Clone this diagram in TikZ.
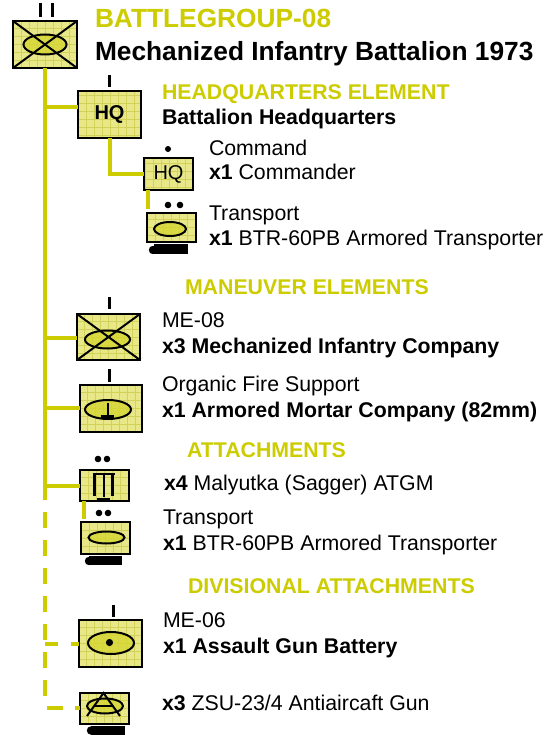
\documentclass[tikz,border=0pt]{standalone}
\usepackage{fontspec}
\setmainfont{Liberation Sans}
\usetikzlibrary{calc}
\definecolor{ylw}{RGB}{204,204,0}
\definecolor{boxfill}{RGB}{232,232,136}
\definecolor{gridc}{RGB}{210,210,90}
\definecolor{ellfill}{RGB}{214,214,50}
\begin{document}
\begin{tikzpicture}[x=1pt,y=-1pt,
 unitbox/.style={draw=black,line width=2pt,fill=boxfill,inner sep=0pt,outer sep=0pt,
   path picture={\draw[gridc,line width=0.7pt,step=8pt] (path picture bounding box.south west) grid (path picture bounding box.north east);}},
 link/.style={draw=ylw,line width=4pt},
 dlink/.style={link,dash pattern=on 16pt off 12pt},
 sym/.style={draw=black,line width=2pt},
 ell/.style={sym,fill=ellfill,fill opacity=0.8},
 bar/.style={draw=black,line width=3pt},
 lbl/.style={anchor=base west,inner sep=0pt,outer sep=0pt,font=\fontsize{21.3}{25}\selectfont},
 head/.style={lbl,font=\fontsize{21.3}{25}\selectfont\bfseries,text=ylw},
 ttl/.style={anchor=base west,inner sep=0pt,outer sep=0pt,font=\fontsize{26.3}{30}\selectfont\bfseries}
]
\fill[white] (0,0) rectangle (557,735);
\useasboundingbox (0,0) rectangle (557,735);

% ---- unit boxes
\node[unitbox,minimum width=64pt,minimum height=47pt] (bg) at (45,44.5) {};
\node[unitbox,minimum width=63pt,minimum height=47pt,font=\fontsize{20}{24}\selectfont\bfseries] (hq) at (109.5,114.5) {HQ};
\node[unitbox,minimum width=49pt,minimum height=32pt,font=\fontsize{20}{24}\selectfont] (cmd) at (168.5,174) {HQ};
\node[unitbox,minimum width=49pt,minimum height=29pt] (tr1) at (171.5,227.5) {};
\node[unitbox,minimum width=63pt,minimum height=46pt] (me8) at (108.5,337) {};
\node[unitbox,minimum width=62pt,minimum height=47pt] (mor) at (111,408.5) {};
\node[unitbox,minimum width=49pt,minimum height=31pt] (sag) at (104.5,485.5) {};
\node[unitbox,minimum width=49pt,minimum height=32pt] (tr2) at (105.5,538) {};
\node[unitbox,minimum width=63pt,minimum height=47pt] (asg) at (110.5,643.5) {};
\node[unitbox,minimum width=49pt,minimum height=31pt] (zsu) at (104.5,708.5) {};

% ---- connectors
\coordinate (tsolid) at (45,500);
\coordinate (tdash) at (45,512);
\coordinate (tend) at (45,697);
\coordinate (b1) at (45,107);
\coordinate (b2) at (45,338);
\coordinate (b3) at (45,408);
\coordinate (b4) at (45,486);
\coordinate (b5) at (45,644);
\coordinate (b6) at (47,708);
\draw[link] (bg.south) -- (tsolid);
\draw[link] (b1) -- (b1 -| hq.west);
\draw[link] (b2) -- (b2 -| me8.west);
\draw[link] (b3) -- (b3 -| mor.west);
\draw[link] (b4) -- (b4 -| sag.west);
\draw[dlink] (tdash) -- (tend);
\draw[link,dash pattern=on 13pt off 13pt] (b5) -- (b5 -| asg.west);
\draw[dlink] (b6) -- (b6 -| zsu.west);
\draw[link] (hq.south) |- (cmd.west);
\draw[link] ($(cmd.south west)+(4,0)$) -- ($(cmd.south west |- tr1.north)+(4,-4)$);
\draw[link] ($(sag.south west)+(4,0)$) -- ($(sag.south west |- tr2.north)+(4,-3)$);

% ---- symbols
% battlegroup
\draw[bar] (40,3) -- (40,17);
\draw[bar] (52,3) -- (52,17);
\draw[ell] (bg.center) ellipse [x radius=21.5pt, y radius=10pt];
\draw[sym] (bg.north west) -- (bg.south east);
\draw[sym] (bg.south west) -- (bg.north east);
% HQ
\draw[bar] (109,75) -- (109,87);
% command
\fill (168,149) circle (3pt);
% transport 1
\fill (168,205) circle (3.3pt);
\fill (180,205) circle (3.3pt);
\draw[ell] (170,229) ellipse [x radius=16pt, y radius=7pt];
\fill (154,244) rectangle (188,254);
\fill (153,250) circle (4.2pt);
% ME-08
\draw[bar] (109,297) -- (109,309);
\draw[ell] (107.5,339.5) ellipse [x radius=22.5pt, y radius=9pt];
\draw[sym] (me8.north west) -- (me8.south east);
\draw[sym] (me8.south west) -- (me8.north east);
% mortar
\draw[bar] (109,369) -- (109,382);
\draw[ell] (108,409.5) ellipse [x radius=23pt, y radius=9.5pt];
\draw[sym] (107.5,403) -- (107.5,416);
\draw[bar] (100.5,416) -- (114,416);
% sagger
\fill (98,459) circle (3.3pt);
\fill (107,459) circle (3.3pt);
\draw[sym] (92.5,474) -- (114.5,474);
\draw[bar] (94.5,474) -- (94.5,496);
\draw[bar] (112.5,474) -- (112.5,496);
\draw[sym] (103.5,474) -- (103.5,497);
\draw[bar] (97,499.5) -- (109.5,499.5);
% transport 2
\fill (99,513) circle (3.3pt);
\fill (108,513) circle (3.3pt);
\draw[ell] (106.5,537.5) ellipse [x radius=18pt, y radius=6pt];
\fill (89,556) rectangle (122,565);
\fill (89,561) circle (4.2pt);
% assault gun
\draw[bar] (113,605) -- (113,617);
\draw[ell] (111,643) ellipse [x radius=23pt, y radius=11pt];
\fill (109.5,642.5) circle (3.6pt);
% ZSU
\draw[ell] (105,706) ellipse [x radius=18pt, y radius=7.5pt];
\draw[sym] (87,716) -- (103.5,693) -- (120,716);
\draw[sym] (94,706) -- (113,706);
\fill (91,726) rectangle (125,735);
\fill (91,730.5) circle (4.2pt);

% ---- texts
\node[ttl,text=ylw] (t1) at (95,28) {BATTLEGROUP-08};
\node[ttl] (t2) at (95,61) {Mechanized Infantry Battalion 1973};
\node[head] (h1) at (162,100) {HEADQUARTERS ELEMENT};
\node[lbl,font=\fontsize{21.3}{25}\selectfont\bfseries] (l1) at (162,125) {Battalion Headquarters};
\node[lbl] (l2) at (209,156) {Command};
\node[lbl] (l3) at (209,180) {\textbf{x1} Commander};
\node[lbl] (l4) at (209,221) {Transport};
\node[lbl] (l5) at (209,245) {\textbf{x1} BTR-60PB Armored Transporter};
\node[head] (h2) at (185,294) {MANEUVER ELEMENTS};
\node[lbl] (l6) at (162,327) {ME-08};
\node[lbl,font=\fontsize{21.3}{25}\selectfont\bfseries] (l7) at (162,353) {x3 Mechanized Infantry Company};
\node[lbl] (l8) at (162,391) {Organic Fire Support};
\node[lbl,font=\fontsize{21.3}{25}\selectfont\bfseries] (l9) at (162,417) {x1 Armored Mortar Company (82mm)};
\node[head] (h3) at (187,457) {ATTACHMENTS};
\node[lbl] (l10) at (164,490) {\textbf{x4} Malyutka (Sagger) ATGM};
\node[lbl] (l11) at (163,524) {Transport};
\node[lbl] (l12) at (163,550) {\textbf{x1} BTR-60PB Armored Transporter};
\node[head] (h4) at (188,593) {DIVISIONAL ATTACHMENTS};
\node[lbl] (l13) at (163,627) {ME-06};
\node[lbl,font=\fontsize{21.3}{25}\selectfont\bfseries] (l14) at (163,653) {x1 Assault Gun Battery};
\node[lbl] (l15) at (162,710) {\textbf{x3} ZSU-23/4 Antiaircaft Gun};
\end{tikzpicture}
\end{document}
